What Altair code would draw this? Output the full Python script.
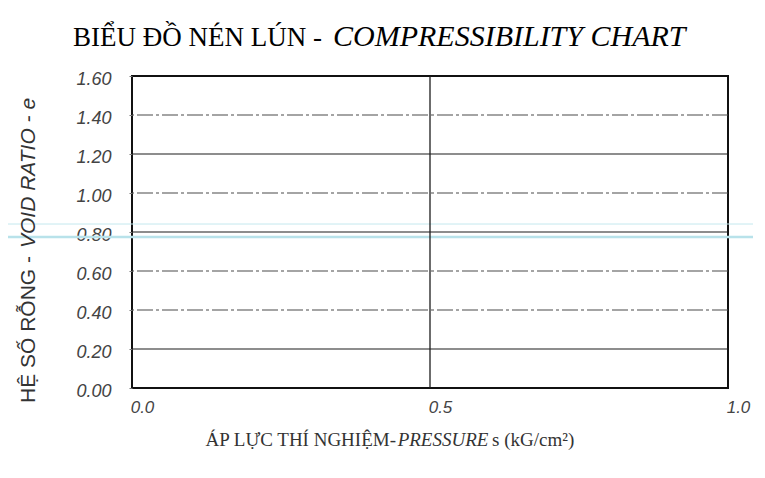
import altair as alt
import pandas as pd

# ---- text content ----
title_vi = "BIỂU ĐỒ NÉN LÚN -"
title_en = "COMPRESSIBILITY CHART"
y_title_vi = "HỆ SỐ RỖNG -"
y_title_en = "VOID RATIO - e"
x_title_vi = "ÁP LỰC THÍ NGHIỆM-"
x_title_en = "PRESSURE"
x_title_unit = "s (kG/cm²)"

# ---- axis values ----
pressure_ticks = [0.0, 0.5, 1.0]
void_ratio_ticks = [0.0, 0.2, 0.4, 0.6, 0.8, 1.0, 1.2, 1.4, 1.6]
solid_grid = [0.2, 0.8, 1.2]
faint_grid = [0.4, 0.6, 1.0, 1.4]
pressure_grid = [0.5]

W, H = 596, 312

xscale = alt.Scale(domain=[0, 1.0], nice=False, zero=False)
yscale = alt.Scale(domain=[0, 1.6], nice=False, zero=False)

yaxis = alt.Axis(
    values=void_ratio_ticks, format=".2f", title=None, grid=False, domain=False,
    labelFont="Liberation Sans", labelFontStyle="italic", labelFontSize=18,
    labelFontWeight="normal", labelColor="#444444", tickColor="#777777",
    tickSize=3, labelPadding=18, labelFlush=False, labelOverlap=False,
    labelOffset=3,
)
xaxis = alt.Axis(
    values=pressure_ticks, format=".1f", title=None, grid=False, domain=False,
    ticks=False, labelFont="Liberation Sans", labelFontStyle="italic",
    labelFontSize=17, labelColor="#444444", labelPadding=11, labelOffset=10,
    labelFlush=False, labelOverlap=False,
)

# light cyan scanner streaks across the page (decoration)
one_row = pd.DataFrame({"k": [0]})
scan1 = alt.Chart(one_row).mark_rule(color="#c4e8ee", strokeWidth=1.0).encode(
    x=alt.value(-124), x2=alt.value(W + 30), y=alt.value(148),
)
scan2 = alt.Chart(one_row).mark_rule(color="#b8e2ea", strokeWidth=2.4).encode(
    x=alt.value(-124), x2=alt.value(W + 30), y=alt.value(161),
)

grid_df = pd.DataFrame({
    "e": solid_grid + faint_grid,
    "kind": ["solid"] * len(solid_grid) + ["faint"] * len(faint_grid),
})
h_grid = alt.Chart(grid_df).mark_rule(strokeWidth=1.2).encode(
    y=alt.Y("e:Q", scale=yscale, axis=yaxis),
    color=alt.Color("kind:N", scale=alt.Scale(domain=["solid", "faint"],
                                              range=["#1c1c1c", "#4a4a4a"]),
                    legend=None),
    strokeDash=alt.StrokeDash("kind:N", scale=alt.Scale(
        domain=["solid", "faint"], range=[[1, 0], [16, 3, 3, 3]]), legend=None),
)

v_grid = alt.Chart(pd.DataFrame({"p": pressure_grid})).mark_rule(
    color="#1c1c1c", strokeWidth=1.3
).encode(x=alt.X("p:Q", scale=xscale, axis=xaxis))


def label(s, x, y, **kw):
    return alt.Chart(pd.DataFrame({"t": [s]})).mark_text(**kw).encode(
        x=alt.value(x), y=alt.value(y), text="t:N"
    )


serif = "Liberation Serif"
sans = "Liberation Sans"

t1 = label(title_vi, 190, -30, font=serif, fontSize=27, color="#000000",
           align="right", baseline="alphabetic")
t2 = label(title_en, 201, -30, font=serif, fontSize=30, fontStyle="italic",
           color="#000000", align="left", baseline="alphabetic")

y1 = label(y_title_vi, -103, 180, font=sans, fontSize=21, color="#333333",
           angle=270, align="right", baseline="middle")
y2 = label(y_title_en, -103, 172, font=sans, fontSize=21, fontStyle="italic",
           color="#333333", angle=270, align="left", baseline="middle")

x2t = label(x_title_en, 311, 370, font=serif, fontSize=19, fontStyle="italic",
            color="#333333", align="center", baseline="alphabetic")
x1t = label(x_title_vi, 264, 370, font=serif, fontSize=19, color="#333333",
            align="right", baseline="alphabetic")
x3t = label(x_title_unit, 360, 370, font=serif, fontSize=19, color="#333333",
            align="left", baseline="alphabetic")

chart = alt.layer(
    scan1, scan2, h_grid, v_grid, t1, t2, y1, y2, x1t, x2t, x3t
).properties(
    width=W, height=H,
    autosize=alt.AutoSizeParams(type="none"),
    padding={"left": 124, "top": 68, "right": 25, "bottom": 78},
    background="white",
).configure_view(stroke="#111111", strokeWidth=2)

chart.save("out.html", embed_options={"renderer": "svg", "actions": False})
